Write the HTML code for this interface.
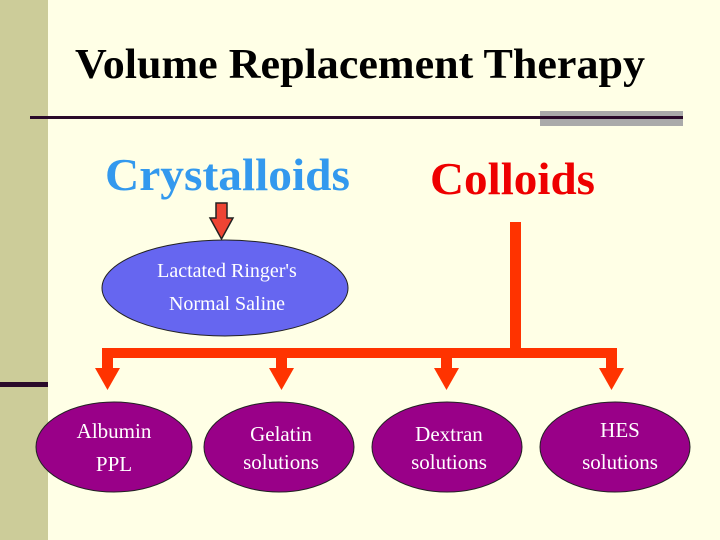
<!DOCTYPE html>
<html><head><meta charset="utf-8"><style>
html,body{margin:0;padding:0;}
body{width:720px;height:540px;background:#ffffe6;position:relative;overflow:hidden;font-family:"Liberation Serif",serif;}
</style></head><body>
<svg width="720" height="540" xmlns="http://www.w3.org/2000/svg" style="position:absolute;left:0;top:0">
<rect x="0" y="0" width="48" height="540" fill="#cccc99"/>
<rect x="0" y="382" width="48" height="5" fill="#2a0a2a"/>
<rect x="540" y="111" width="143" height="15" fill="#aaaaaa"/>
<rect x="30" y="116" width="653" height="3" fill="#2a0a2a"/>
<text x="75" y="78" textLength="570" lengthAdjust="spacingAndGlyphs" font-family="Liberation Serif" font-weight="bold" font-size="42" fill="#000">Volume Replacement Therapy</text>
<text x="105" y="190" textLength="245" lengthAdjust="spacingAndGlyphs" font-family="Liberation Serif" font-weight="bold" font-size="46" fill="#3399ee">Crystalloids</text>
<text x="430" y="194" textLength="165" lengthAdjust="spacingAndGlyphs" font-family="Liberation Serif" font-weight="bold" font-size="46" fill="#ee0000">Colloids</text>
<polygon points="216,203 227,203 227,218 233,218 221.5,239 210,218 216,218" fill="#ee4433" stroke="#222" stroke-width="1.5"/>
<ellipse cx="225" cy="288" rx="123" ry="48" fill="#6666f0" stroke="#222" stroke-width="1"/>
<text x="227" y="277" text-anchor="middle" font-size="20" fill="#fff">Lactated Ringer's</text>
<text x="227" y="310" text-anchor="middle" font-size="20" fill="#fff">Normal Saline</text>
<g fill="#ff3300">
<rect x="510" y="222" width="11" height="130"/>
<rect x="102" y="348" width="515" height="10"/>
<rect x="102" y="348" width="11" height="22"/><polygon points="95,368 120,368 107.5,390"/>
<rect x="276" y="348" width="11" height="22"/><polygon points="269,368 294,368 281.5,390"/>
<rect x="441" y="348" width="11" height="22"/><polygon points="434,368 459,368 446.5,390"/>
<rect x="606" y="348" width="11" height="22"/><polygon points="599,368 624,368 611.5,390"/>
</g>
<g fill="#990088" stroke="#222" stroke-width="1">
<ellipse cx="114" cy="447" rx="78" ry="45"/>
<ellipse cx="279" cy="447" rx="75" ry="45"/>
<ellipse cx="447" cy="447" rx="75" ry="45"/>
<ellipse cx="615" cy="447" rx="75" ry="45"/>
</g>
<g font-size="21" fill="#fff" text-anchor="middle">
<text x="114" y="438">Albumin</text><text x="114" y="471">PPL</text>
<text x="281" y="441">Gelatin</text><text x="281" y="469">solutions</text>
<text x="449" y="441">Dextran</text><text x="449" y="469">solutions</text>
<text x="620" y="437">HES</text><text x="620" y="469">solutions</text>
</g>
</svg>
</body></html>
